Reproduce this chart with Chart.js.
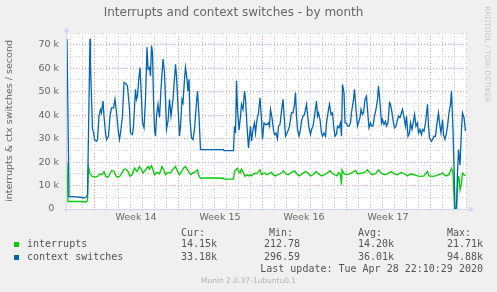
<!DOCTYPE html>
<html>
<head>
<meta charset="utf-8">
<script src="https://cdn.jsdelivr.net/npm/chart.js@4"></script>
<style>
  body { margin: 0; background: #f0f0f0; }
  #wrap { position: relative; width: 497px; height: 292px; font-family: 'DejaVu Sans', sans-serif; }
  .mono { position: absolute; font-family: 'DejaVu Sans Mono', monospace; font-size: 10px; line-height: 12px; color: #555; white-space: pre; }
  .sq { position: absolute; width: 5px; height: 5px; }
  #rrd { position: absolute; left: 483px; top: 6px; writing-mode: vertical-rl; font-size: 7.5px; color: #c8c8c8; white-space: nowrap; }
  #munin { position: absolute; left: 0; width: 497px; top: 276px; text-align: center; font-size: 7.5px; color: #b0b0b0; }
</style>
</head>
<body>
<div id="wrap">
  <canvas id="chart" width="497" height="292"></canvas>
  <div id="rrd">RRDTOOL / TOBI OETIKER</div>
  <div id="munin">Munin 2.0.37-1ubuntu0.1</div>
</div>
<script>
// hours since Mon 30 Mar 2020 00:00, values per second
const interruptsData = [
  [-54, 19500], [-52, 3200], [-28, 3200], [-16, 3000], [-13, 3500], [-11, 18000], [-8, 15000], [-4, 14000],
  [2, 13600], [8, 14000], [12, 15000], [16, 14500], [20, 16000], [24, 13800], [28, 13500], [32, 15000],
  [36, 16500], [40, 16000], [44, 14000], [48, 13500], [52, 14000], [56, 15500], [60, 17000], [64, 17000],
  [68, 16000], [72, 14000], [76, 14600], [81, 17400], [86, 16000], [91, 18100], [95, 16700], [98, 15300],
  [103, 16700], [108, 18100], [111, 17000], [115, 18400], [118, 16700], [121, 14600], [126, 15600], [131, 15000],
  [136, 18100], [140, 16400], [143, 14600], [148, 15600], [153, 15300], [157, 16700], [163, 18100], [167, 16000],
  [171, 14600], [175, 16000], [179, 17400], [183, 18100], [187, 16700], [191, 15300], [194, 14600], [197, 15300],
  [203, 16000], [207, 16700], [209, 14600], [213, 13100], [225, 13300], [240, 13200], [259, 13100], [260, 12700],
  [279, 12700], [281, 16000], [284, 16700], [287, 17400], [289, 16000], [292, 15300], [295, 17000], [299, 15300],
  [302, 13900], [305, 14600], [309, 14100], [312, 14600], [315, 14100], [319, 15000], [322, 15300], [325, 15000],
  [329, 16000], [332, 16700], [335, 14600], [339, 15300], [342, 15300], [345, 14600], [349, 15000], [355, 15600],
  [358, 14600], [363, 14100], [368, 14600], [375, 15300], [379, 16300], [383, 15000], [388, 14600], [395, 15600],
  [401, 16300], [407, 14600], [411, 14100], [418, 15300], [423, 16000], [428, 15300], [433, 14100], [438, 14600],
  [445, 16000], [449, 15000], [455, 14100], [461, 14600], [468, 15600], [472, 16300], [476, 15300], [481, 14600],
  [486, 14100], [489, 15600], [493, 14600], [495, 10300], [496, 16700], [499, 15300], [504, 14600], [511, 15000],
  [517, 15600], [523, 16400], [527, 15000], [534, 15300], [541, 15600], [547, 16700], [552, 15300], [557, 14600],
  [563, 15000], [569, 16700], [574, 15300], [581, 14600], [587, 15000], [594, 16000], [601, 15000], [607, 14600],
  [614, 15600], [621, 15000], [627, 14100], [633, 14900], [640, 14600], [647, 14100], [653, 13900], [660, 14100],
  [667, 16000], [670, 14100], [677, 13900], [683, 14100], [690, 14600], [697, 15300], [703, 14100], [710, 14600],
  [715, 17400], [718, 15300], [721, 250], [725, 213], [728, 13900], [730, 13600], [732, 8100], [735, 11000],
  [737, 15300], [740, 14600], [743, 14150]
];

const ctxSwitchesData = [
  [-54, 72500], [-50, 5300], [-44, 5300], [-36, 5200], [-28, 5000], [-20, 4800], [-16, 5000], [-13, 6000],
  [-8, 72500], [-7, 61000], [-3, 33900], [-1, 33100], [1, 29600], [5, 28900], [7, 29600], [10, 39600],
  [13, 42400], [15, 41000], [18, 46000], [20, 39600], [23, 32400], [25, 29600], [29, 31000], [32, 39600],
  [35, 43100], [39, 43100], [42, 46700], [45, 41000], [49, 32400], [51, 29600], [53, 32400], [57, 39600],
  [60, 53900], [63, 53600], [67, 52400], [71, 42400], [73, 32400], [77, 31700], [79, 35300], [83, 51000],
  [85, 46700], [87, 48100], [89, 53900], [92, 60300], [95, 46700], [97, 36700], [100, 34600], [103, 46700],
  [106, 68900], [108, 59600], [111, 60300], [113, 56700], [115, 69600], [117, 66700], [119, 46700], [121, 33900],
  [123, 31000], [125, 39600], [128, 44600], [131, 39000], [134, 51000], [138, 63900], [141, 58100], [143, 46700],
  [145, 33900], [148, 37400], [151, 46700], [154, 39600], [158, 46700], [163, 61700], [165, 56700], [168, 43900],
  [171, 31000], [173, 35300], [176, 46700], [178, 45300], [181, 55300], [183, 60300], [186, 55300], [188, 50300],
  [190, 55300], [192, 38100], [195, 30300], [198, 29600], [201, 33900], [205, 45300], [207, 50300], [210, 39600],
  [213, 25300], [259, 25300], [260, 24900], [279, 24900], [281, 35300], [283, 32400], [285, 54600], [287, 42400],
  [290, 33600], [293, 39600], [295, 44600], [298, 42400], [301, 50300], [303, 46700], [306, 35300], [309, 26000],
  [311, 31000], [313, 35300], [315, 28900], [318, 33900], [321, 36700], [323, 32400], [326, 38100], [329, 41000],
  [332, 47400], [335, 38100], [337, 29600], [340, 36700], [343, 36000], [346, 36000], [349, 36700], [351, 35300],
  [353, 42400], [356, 38900], [359, 33600], [361, 31700], [364, 32400], [367, 29900], [369, 35300], [372, 36000],
  [375, 41700], [378, 46700], [381, 37400], [383, 31000], [386, 32400], [389, 33900], [391, 35300], [395, 41000],
  [398, 41000], [401, 44600], [403, 49600], [405, 39600], [407, 33900], [410, 31000], [413, 33900], [415, 37400],
  [418, 39600], [421, 40300], [425, 44600], [427, 40300], [430, 34600], [433, 31700], [435, 33900], [438, 35300],
  [441, 39600], [445, 46000], [447, 39600], [449, 41000], [452, 38100], [455, 32400], [457, 31000], [460, 32400],
  [463, 31000], [465, 36700], [469, 42400], [471, 44600], [474, 40300], [477, 41000], [479, 36000], [482, 31000],
  [485, 32000], [487, 35300], [490, 34600], [493, 36700], [495, 31000], [497, 53100], [500, 49600], [502, 36700],
  [505, 36700], [507, 35300], [510, 35300], [513, 36700], [515, 41000], [519, 46700], [521, 51000], [524, 42400],
  [527, 35300], [529, 36700], [532, 38900], [534, 42400], [537, 40300], [539, 41000], [542, 46700], [545, 48100],
  [547, 42400], [550, 34600], [553, 36700], [555, 35300], [558, 35300], [561, 39600], [564, 42400], [567, 46700],
  [569, 52400], [572, 45300], [575, 36700], [577, 38100], [580, 36000], [583, 37400], [585, 35300], [588, 36700],
  [591, 45300], [593, 44600], [596, 41000], [599, 36700], [601, 34600], [604, 35300], [607, 38100], [609, 39600],
  [612, 38900], [615, 41000], [617, 42400], [620, 39000], [623, 35300], [625, 39600], [628, 31000], [631, 32400],
  [633, 36700], [636, 33900], [639, 37400], [641, 40300], [644, 35300], [647, 36700], [649, 32400], [652, 33900],
  [655, 31700], [657, 33900], [660, 33100], [663, 36700], [667, 44600], [669, 35300], [671, 30300], [675, 28900],
  [677, 29600], [680, 31000], [683, 31000], [686, 36700], [689, 41000], [691, 36700], [694, 32400], [697, 38100],
  [699, 31700], [702, 29600], [705, 32400], [707, 35300], [710, 41000], [713, 44600], [715, 50300], [718, 33900],
  [720, 18100], [722, 300], [725, 400], [727, 15300], [729, 25300], [732, 18700], [735, 33900], [737, 41000],
  [740, 38900], [743, 33180]
];

const seriesNames = ['interrupts', 'context switches'];
const seriesColors = ['#00cc00', '#0066b3'];
const curText = ['14.15k', '33.18k'];
const minText = ['212.78', '296.59'];
const avgText = ['14.20k', '36.01k'];
const maxText = ['21.71k', '94.88k'];
const lastUpdate = 'Last update: Tue Apr 28 22:10:29 2020';

const weekLabels = ['Week 14', 'Week 15', 'Week 16', 'Week 17'];
const weekCenters = [84, 252, 420, 588];

const gridGray = '#cfcfcf';
const gridRed = '#f09a9a';
const axisColor = '#cfd6f8';

// day grid positions + the week label positions
let xTicks = [];
for (let h = -48; h <= 744; h += 24) xTicks.push(h);
xTicks = xTicks.concat(weekCenters).sort((a, b) => a - b);

const frame = {
    id: 'frame',
    beforeDraw(chart) {
        const {ctx, chartArea: a} = chart;
        ctx.save();
        ctx.fillStyle = '#f0f0f0';
        ctx.fillRect(0, 0, chart.width, chart.height);
        ctx.fillStyle = '#ffffff';
        ctx.fillRect(a.left, a.top, a.right - a.left, a.bottom - a.top);
        ctx.restore();
    },
    beforeDatasetsDraw(chart) {
        const {ctx, chartArea: a} = chart;
        const x0 = Math.round(a.left) - 0.5;
        const y0 = Math.round(a.bottom) + 0.5;
        ctx.save();
        ctx.strokeStyle = axisColor;
        ctx.fillStyle = axisColor;
        ctx.lineWidth = 1;
        ctx.setLineDash([]);
        ctx.beginPath();
        ctx.moveTo(x0 - 3, y0);
        ctx.lineTo(a.right + 3, y0);
        ctx.moveTo(x0, y0 + 3);
        ctx.lineTo(x0, a.top - 1);
        ctx.stroke();
        ctx.beginPath();
        ctx.moveTo(a.right + 2, y0 - 3);
        ctx.lineTo(a.right + 7, y0);
        ctx.lineTo(a.right + 2, y0 + 3);
        ctx.closePath();
        ctx.fill();
        ctx.beginPath();
        ctx.moveTo(x0 - 3, a.top - 1);
        ctx.lineTo(x0, a.top - 6);
        ctx.lineTo(x0 + 3, a.top - 1);
        ctx.closePath();
        ctx.fill();
        ctx.restore();
    }
};

Chart.defaults.font.family = "'DejaVu Sans', sans-serif";
Chart.defaults.color = '#666';

new Chart(document.getElementById('chart'), {
    type: 'line',
    data: {
        datasets: [
            {
                label: seriesNames[1],
                data: ctxSwitchesData.map(p => ({x: p[0], y: p[1]})),
                borderColor: seriesColors[1],
                borderWidth: 1.3,
                pointRadius: 0,
                tension: 0,
                fill: false
            },
            {
                label: seriesNames[0],
                data: interruptsData.map(p => ({x: p[0], y: p[1]})),
                borderColor: seriesColors[0],
                borderWidth: 1.3,
                pointRadius: 0,
                tension: 0,
                fill: false
            }
        ]
    },
    options: {
        responsive: false,
        animation: false,
        devicePixelRatio: 1,
        layout: {padding: {left: 0, right: 30, top: 0, bottom: 0}},
        plugins: {
            legend: {display: false},
            tooltip: {enabled: false},
            title: {
                display: true,
                text: 'Interrupts and context switches - by month',
                color: '#666',
                font: {size: 12, weight: 'normal'},
                padding: {top: 6, bottom: 12.6}
            }
        },
        scales: {
            x: {
                type: 'linear',
                min: -54,
                max: 746,
                afterBuildTicks: s => { s.ticks = xTicks.map(v => ({value: v})); },
                afterFit: s => { s.height = 83; },
                ticks: {
                    autoSkip: false,
                    maxRotation: 0,
                    padding: 1,
                    font: {size: 9.5},
                    color: '#666',
                    callback: v => {
                        const i = weekCenters.indexOf(v);
                        return i >= 0 ? weekLabels[i] : '';
                    }
                },
                grid: {
                    drawTicks: true,
                    tickLength: 2,
                    color: c => {
                        const v = c.tick ? c.tick.value : 0;
                        if (v % 168 === 0) return gridRed;
                        if (v % 24 === 0) return gridGray;
                        return 'rgba(0,0,0,0)';
                    },
                    tickColor: c => {
                        const v = c.tick ? c.tick.value : 0;
                        if (v % 168 === 0) return gridRed;
                        if (v % 24 === 0) return axisColor;
                        return 'rgba(0,0,0,0)';
                    }
                },
                border: {display: false, dash: [1, 2]}
            },
            y: {
                min: 0,
                max: 75000,
                afterFit: s => { s.width = 67; },
                ticks: {
                    stepSize: 5000,
                    autoSkip: false,
                    padding: 8,
                    font: {size: 9.5},
                    color: '#666',
                    callback: v => {
                        if (v % 10000 !== 0) return '';
                        return v === 0 ? '0\u2002' : (v / 1000) + ' k';
                    }
                },
                grid: {
                    drawTicks: false,
                    color: c => (c.tick && c.tick.value % 10000 === 0) ? gridRed : gridGray
                },
                border: {display: false, dash: [1, 2]},
                title: {
                    display: true,
                    text: 'interrupts & ctx switches / second',
                    color: '#666',
                    font: {size: 9.5},
                    padding: {top: 4, bottom: 0}
                }
            }
        }
    },
    plugins: [frame]
});

// legend block under the graph
const wrap = document.getElementById('wrap');
function addText(text, left, top) {
    const el = document.createElement('div');
    el.className = 'mono';
    el.style.left = left + 'px';
    el.style.top = top + 'px';
    el.textContent = text;
    wrap.appendChild(el);
    return el;
}
addText('Cur:', 181, 227);
addText('Min:', 269, 227);
addText('Avg:', 358, 227);
addText('Max:', 447, 227);
seriesNames.forEach((name, i) => {
    const top = 238 + i * 13;
    const sq = document.createElement('div');
    sq.className = 'sq';
    sq.style.left = '14px';
    sq.style.top = (top + 4) + 'px';
    sq.style.background = seriesColors[i];
    wrap.appendChild(sq);
    addText(name, 27, top);
    addText(curText[i], 181, top);
    addText(minText[i], 264, top);
    addText(avgText[i], 358, top);
    addText(maxText[i], 447, top);
});
const lu = addText(lastUpdate, 0, 263);
lu.style.left = 'auto';
lu.style.right = (497 - 483) + 'px';
</script>
</body>
</html>
